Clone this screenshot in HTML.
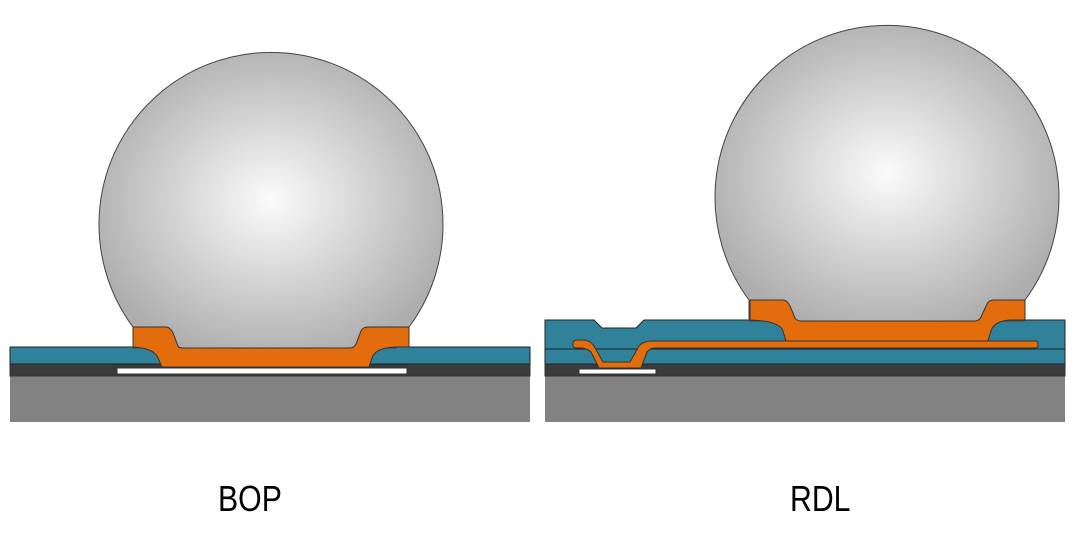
<!DOCTYPE html>
<html><head><style>
html,body{margin:0;padding:0;background:#fff;}
body{width:1080px;height:534px;overflow:hidden;position:relative;}
.lbl{position:absolute;font-family:"Liberation Sans",sans-serif;font-size:36px;color:#000;line-height:1;top:481px;transform-origin:0 0;transform:scaleX(0.84);}
</style></head><body>
<svg width="1080" height="534" style="position:absolute;left:0;top:0">
<defs>
<radialGradient id="g" cx="0.5" cy="0.5" r="0.55">
<stop offset="0" stop-color="#fbfbfb"/><stop offset="1" stop-color="#aeaeae"/>
</radialGradient>
</defs>
<g stroke="#333" stroke-width="1">
<!-- LEFT BOP -->
<rect x="10" y="375" width="520" height="47" fill="#828282" stroke="none"/>
<rect x="10" y="364" width="520" height="12" fill="#3b3b3b"/>
<rect x="117" y="368" width="290" height="6" fill="#fff"/>
<rect x="10" y="347" width="520" height="17" fill="#2f8299" stroke="#222"/>
<path d="M133,327 A172,172 0 1 1 409,327 L396,327 L396,348 L133,348 Z" fill="url(#g)" stroke="#444"/>
<path d="M133,327 L166,327 Q170,327 173,333 L178,346 Q179,348 183,348 L350,348 Q354,348 356,344 L361,331 Q363,327 368,327 L409,327 L409,347 L395,347 Q375,348 372,358 L369,367 L162,367 L158,358 Q154,348 133,347 Z" fill="#e36d0c"/>
<!-- RIGHT RDL -->
<rect x="545" y="375" width="520" height="47" fill="#828282" stroke="none"/>
<rect x="545" y="364" width="520" height="12" fill="#3b3b3b"/>
<rect x="579" y="369" width="77" height="5" fill="#fff"/>
<path d="M545,320 L594,320 L602,328 L636,328 L644,320 L1065,320 L1065,364 L545,364 Z" fill="#2f8299" stroke="#222"/>
<line x1="545" y1="349" x2="1065" y2="349" stroke="#222"/>
<path d="M573,343 Q573,340 578,340 L583,340 Q590,340 594,346 L603,362 L630,362 L639,346 Q643,341 652,341 L1036,341 Q1038,341 1038,344 L1038,346 Q1038,348 1035,348 L655,348 Q650,348 647,352 L641,368 L599,368 L591,352 Q587,348 580,348 L576,348 Q573,348 573,345 Z" fill="#e36d0c" stroke="#333"/>
<path d="M749,300 A172,172 0 1 1 1025,300 L1025,321 L749,321 Z" fill="url(#g)" stroke="#444"/>
<path d="M750,300 L783,300 Q787,300 790,306 L795,318 Q797,321 801,321 L975,321 Q979,321 981,317 L987,304 Q989,300 994,300 L1025,300 L1025,320 L1010,320 Q994,321 991,331 L988,341 L786,341 L783,331 Q780,321 750,320 Z" fill="#e36d0c"/>
</g>
</svg>
<div class="lbl" style="left:218px">BOP</div>
<div class="lbl" style="left:790px">RDL</div>
</body></html>
